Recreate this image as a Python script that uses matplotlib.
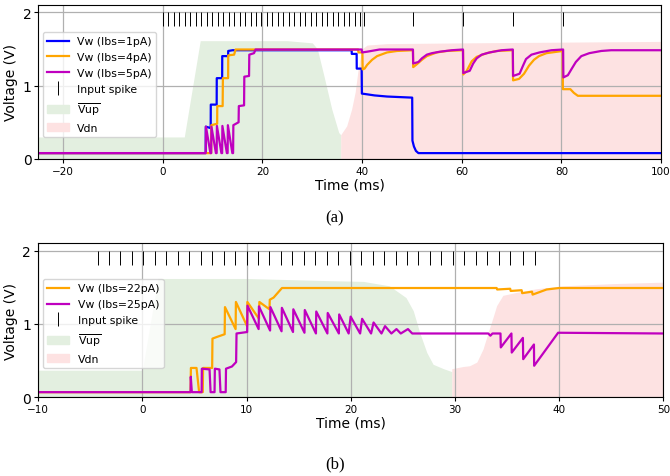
import matplotlib
matplotlib.use("Agg")
import matplotlib.pyplot as plt
from matplotlib.patches import Patch
from matplotlib.lines import Line2D

# ---------------- (a) data ----------------
spikes_a = [0.0, 1.1, 2.2, 3.3, 4.4, 5.5, 6.6, 7.7, 8.8, 9.9, 11.0, 12.1, 13.2, 14.3,
            15.4, 16.5, 17.6, 18.7, 19.8, 20.9, 22.0, 23.1, 24.2, 25.3, 26.4, 27.5,
            28.6, 29.7, 30.8, 31.9, 33.0, 34.1, 35.2, 36.3, 37.4, 38.5, 39.6, 40.3,
            50.3, 60.3, 70.3, 80.4]

t_blue_a = [-25, 8.6, 8.62, 9.6, 9.62, 10.8, 10.82, 11.9, 11.92, 13.1, 13.12, 14.0, 37.9, 37.92,
            38.9, 38.92, 39.9, 39.95, 41.0, 42.5, 45.0, 50.05, 50.1, 50.4, 50.8, 51.3, 100]
v_blue_a = [0.08, 0.08, 0.44, 0.42, 0.74, 0.74, 1.10, 1.10, 1.40, 1.40, 1.47, 1.48, 1.48, 1.43,
            1.43, 1.23, 1.23, 0.89, 0.88, 0.865, 0.85, 0.835, 0.25, 0.17, 0.11, 0.08, 0.08]

t_orange_a = [-25, 9.7, 9.72, 10.9, 10.92, 12.0, 12.05, 13.1, 13.12, 14.3, 14.6, 39.2, 39.25,
              40.05, 40.1, 40.5, 41, 42, 43, 45, 47, 50.2, 50.25, 51, 52, 53, 55, 57, 60.25,
              60.3, 61, 62, 63, 65, 67, 70.25, 70.3, 71.5, 72.5, 73.5, 74.5, 75.5, 77, 80.25,
              80.3, 81.8, 82.5, 83.3, 100]
v_orange_a = [0.08, 0.08, 0.46, 0.48, 0.72, 0.72, 1.10, 1.10, 1.41, 1.42, 1.49, 1.49, 1.45,
              1.45, 1.22, 1.23, 1.28, 1.35, 1.40, 1.45, 1.47, 1.48, 1.25, 1.29, 1.35, 1.40, 1.45,
              1.47, 1.48, 1.15, 1.20, 1.33, 1.39, 1.44, 1.47, 1.48, 1.07, 1.09, 1.16, 1.27, 1.35,
              1.40, 1.44, 1.47, 0.95, 0.95, 0.90, 0.86, 0.86]

t_purple_a = [-25, 8.6, 8.65, 9.55, 9.7, 9.75, 10.65, 10.8, 10.85, 11.75, 11.9, 11.95, 12.85,
              13.0, 13.05, 13.95, 14.1, 14.15, 15.2, 15.25, 16.3, 16.35, 17.3, 17.35, 18.3, 18.6,
              39.9, 40.0, 41.0, 43.5, 50.2, 50.25, 51.3, 52, 53, 54, 55.6, 58, 60.25, 60.3, 61.6,
              62.3, 63, 64, 65.6, 68, 70.25, 70.3, 71.6, 72.3, 72.9, 74, 75.6, 78, 80.35, 80.4,
              81.3, 82, 82.9, 84, 85.6, 88, 90, 100]
v_purple_a = [0.08, 0.08, 0.44, 0.08, 0.08, 0.44, 0.08, 0.08, 0.45, 0.08, 0.08, 0.45, 0.08,
              0.08, 0.46, 0.08, 0.08, 0.46, 0.50, 0.72, 0.73, 1.12, 1.13, 1.42, 1.44, 1.49,
              1.49, 1.45, 1.46, 1.49, 1.49, 1.30, 1.32, 1.37, 1.42, 1.44, 1.46, 1.48, 1.49, 1.17,
              1.20, 1.30, 1.37, 1.42, 1.45, 1.48, 1.49, 1.13, 1.16, 1.27, 1.36, 1.42, 1.45, 1.48,
              1.49, 1.11, 1.14, 1.22, 1.32, 1.40, 1.44, 1.47, 1.48, 1.48]

t_vup_a = [-25, 4.3, 7.5, 25.0, 30.0, 31.0, 32.3, 33.9, 35.3, 35.7, 35.72]
v_vup_a = [0.30, 0.30, 1.61, 1.61, 1.58, 1.50, 1.14, 0.68, 0.36, 0.33, 0.0]

t_vdn_a = [35.7, 36.9, 37.9, 38.6, 39.3, 40.0, 41.0, 45.0, 60.0, 80.0, 100.0]
v_vdn_a = [0.33, 0.45, 0.68, 0.91, 1.27, 1.50, 1.55, 1.57, 1.58, 1.59, 1.60]

# ---------------- (b) data ----------------
spikes_b = [-4.3, -3.2, -2.1, -1.0, 0.1, 1.2, 2.3, 3.4, 4.5, 5.6, 6.7, 7.8, 8.9, 10.0,
            11.1, 12.2, 13.3, 14.4, 15.5, 16.6, 17.7, 18.8, 19.9, 21.0, 22.1, 23.2, 24.3,
            25.4, 26.5, 27.6, 28.7, 29.8, 30.9, 32.0, 33.1, 34.2, 35.3, 36.5, 37.7]

t_orange_b = [-10, 4.63, 4.66, 5.2, 5.45, 5.8, 5.83, 6.7, 6.73, 7.1, 7.9, 7.93, 8.95, 8.98,
              10.05, 10.08, 11.2, 11.23, 12.2, 12.23, 12.6, 13.4, 34.0, 34.05, 35.3, 35.35,
              36.4, 36.45, 37.4, 37.45, 38.8, 40.0, 50.0]
v_orange_b = [0.07, 0.07, 0.40, 0.40, 0.07, 0.07, 0.40, 0.40, 0.80, 0.82, 0.86, 1.23, 0.93, 1.30,
              0.97, 1.30, 1.07, 1.30, 1.20, 1.33, 1.36, 1.49, 1.49, 1.47, 1.48, 1.45,
              1.46, 1.42, 1.44, 1.40, 1.47, 1.49, 1.49]

t_purple_b = [-10, 4.63, 4.65, 4.75, 5.69, 5.71, 6.45, 6.55, 6.93, 6.96, 7.4, 7.5, 8.0, 8.03,
              8.6, 9.0, 9.04, 10.06,
              10.09, 11.16, 11.19, 12.26, 12.29, 13.36, 13.39, 14.46, 14.49, 15.56, 15.59,
              16.66, 16.69, 17.76, 17.79, 18.86, 18.89, 19.8, 19.99, 20.9, 21.09, 21.95,
              22.19, 22.95, 23.29, 23.9, 24.39, 24.8, 25.49, 25.9,
              33.2, 33.4, 33.6, 34.37, 34.4, 35.42, 35.45, 36.52, 36.55, 37.58, 37.6, 39.9, 50.0]
v_purple_b = [0.07, 0.07, 0.28, 0.07, 0.07, 0.39, 0.38, 0.07, 0.07, 0.39, 0.38, 0.07, 0.07, 0.39,
              0.42, 0.48, 0.87, 0.89,
              1.25, 0.93, 1.24, 0.91, 1.23, 0.90, 1.22, 0.89, 1.20, 0.88, 1.19,
              0.87, 1.17, 0.87, 1.15, 0.87, 1.13, 0.87, 1.10, 0.87, 1.07, 0.87,
              1.02, 0.87, 0.97, 0.87, 0.93, 0.87, 0.93, 0.87,
              0.87, 0.84, 0.87, 0.87, 0.68, 0.87, 0.61, 0.81, 0.52, 0.72, 0.43, 0.88, 0.87]

t_vup_b = [-10, 0.0, 1.5, 10.0, 18.0, 21.2, 23.7, 25.3, 26.0, 26.6, 27.3, 27.9, 28.9, 29.7, 29.72]
v_vup_b = [0.37, 0.37, 1.62, 1.62, 1.59, 1.58, 1.52, 1.36, 1.18, 0.89, 0.61, 0.45, 0.39, 0.35, 0.0]

t_vdn_b = [29.7, 30.8, 31.4, 32.1, 32.7, 33.2, 33.7, 34.0, 34.6, 35.9, 37.8, 40.4, 45.2, 50.0]
v_vdn_b = [0.39, 0.42, 0.43, 0.48, 0.66, 0.89, 1.11, 1.25, 1.39, 1.43, 1.48, 1.52, 1.55, 1.57]

# ---------------- styling ----------------
plt.rcParams['font.family'] = ['DejaVu Sans']
C_BLUE = '#0000ff'
C_ORANGE = '#ffa500'
C_PURPLE = '#bf00bf'
C_GREEN = '#e3efe0'
C_PINK = '#fde2e2'
LW = 1.6
TICK_FS = 7.5
LAB_FS = 10
LEG_FS = 7.8

fig = plt.figure(figsize=(6.7, 4.77), dpi=100)
ax1 = fig.add_axes([0.0572, 0.6646, 0.9294, 0.3235])
ax2 = fig.add_axes([0.0569, 0.165, 0.9332, 0.3229])


def style(ax, xlim, xticks):
    ax.set_xlim(*xlim)
    ax.set_ylim(0, 2.1)
    ax.set_xticks(xticks)
    ax.set_yticks([0, 1, 2])
    ax.grid(True, color='#b0b0b0', linewidth=0.9)
    ax.tick_params(labelsize=TICK_FS, length=3, pad=2)
    ax.tick_params(axis='y', labelsize=LAB_FS)
    ax.set_xlabel('Time (ms)', fontsize=LAB_FS, labelpad=1)
    ax.set_ylabel('Voltage (V)', fontsize=LAB_FS, labelpad=3)


# (a)
ax1.fill_between(t_vup_a, 0, v_vup_a, color=C_GREEN, linewidth=0, zorder=1)
ax1.fill_between(t_vdn_a, 0, v_vdn_a, color=C_PINK, linewidth=0, zorder=1)
ax1.plot(t_blue_a, v_blue_a, color=C_BLUE, lw=LW)
ax1.plot(t_orange_a, v_orange_a, color=C_ORANGE, lw=LW)
ax1.plot(t_purple_a, v_purple_a, color=C_PURPLE, lw=LW)
ax1.plot(spikes_a, [1.9] * len(spikes_a), '|', color='k', markersize=10, mew=0.7)
style(ax1, (-25, 100), [-20, 0, 20, 40, 60, 80, 100])

handles_a = [Line2D([], [], color=C_BLUE, lw=LW),
             Line2D([], [], color=C_ORANGE, lw=LW),
             Line2D([], [], color=C_PURPLE, lw=LW),
             Line2D([], [], color='k', marker='|', ls='none', markersize=10, mew=0.7),
             Patch(color=C_GREEN), Patch(color=C_PINK)]
labels_a = ['Vw (Ibs=1pA)', 'Vw (Ibs=4pA)', 'Vw (Ibs=5pA)', 'Input spike',
            r'$\overline{\mathregular{Vup}}$', 'Vdn']
ax1.legend(handles_a, labels_a, loc='upper left', bbox_to_anchor=(0.007, 0.823),
           borderaxespad=0, fontsize=LEG_FS, labelspacing=0.55)

# (b)
ax2.fill_between(t_vup_b, 0, v_vup_b, color=C_GREEN, linewidth=0, zorder=1)
ax2.fill_between(t_vdn_b, 0, v_vdn_b, color=C_PINK, linewidth=0, zorder=1)
ax2.plot(t_orange_b, v_orange_b, color=C_ORANGE, lw=LW)
ax2.plot(t_purple_b, v_purple_b, color=C_PURPLE, lw=LW)
ax2.plot(spikes_b, [1.9] * len(spikes_b), '|', color='k', markersize=10, mew=0.7)
style(ax2, (-10, 50), [-10, 0, 10, 20, 30, 40, 50])

handles_b = [Line2D([], [], color=C_ORANGE, lw=LW),
             Line2D([], [], color=C_PURPLE, lw=LW),
             Line2D([], [], color='k', marker='|', ls='none', markersize=10, mew=0.7),
             Patch(color=C_GREEN), Patch(color=C_PINK)]
labels_b = ['Vw (Ibs=22pA)', 'Vw (Ibs=25pA)', 'Input spike',
            r'$\overline{\mathregular{Vup}}$', 'Vdn']
ax2.legend(handles_b, labels_b, loc='upper left', bbox_to_anchor=(0.008, 0.768),
           borderaxespad=0, fontsize=LEG_FS, labelspacing=0.55)

fig.text(0.5, 1 - 218 / 477, '(a)', ha='center', va='center',
         fontsize=12, family='Liberation Serif')
fig.text(0.5, 1 - 464 / 477, '(b)', ha='center', va='center',
         fontsize=12, family='Liberation Serif')

fig.savefig('out.png', dpi=100)
